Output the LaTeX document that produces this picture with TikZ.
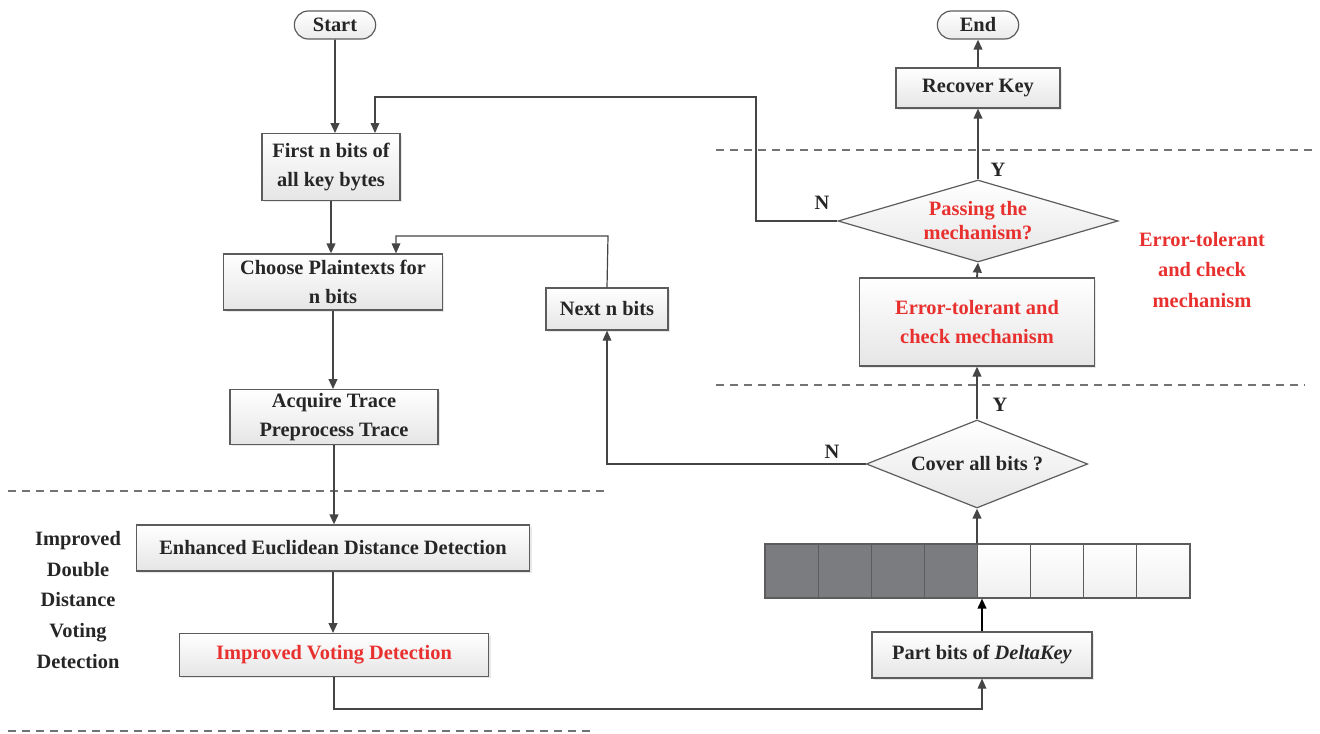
\documentclass[tikz,border=0pt]{standalone}
\usepackage{fontspec}
\setmainfont{Liberation Serif}
\usetikzlibrary{
  arrows.meta,
  shapes.misc,
  shapes.geometric,
  shadows,
  positioning
}
\definecolor{linegray}{HTML}{454545}
\definecolor{boxgray}{HTML}{5C5C5C}
\definecolor{textdark}{HTML}{262626}
\definecolor{alertred}{HTML}{E8312F}
\definecolor{cellgray}{HTML}{7B7C7F}

\begin{document}
\begin{tikzpicture}[x=0.75pt,y=-0.75pt,
      process/.style={
         rectangle,
         inner sep=0pt,
         line width=0.9pt,
         draw=boxgray,
         top color=white,
         bottom color=black!10,
         drop shadow={opacity=0.18,shadow xshift=1.5pt,shadow yshift=-1.5pt},
         font=\bfseries\fontsize{15.3}{21.75}\selectfont,
         text=textdark,
         align=center
      },
      terminal/.style={
         rounded rectangle,
         inner sep=0pt,
         line width=0.9pt,
         draw=boxgray,
         top color=white,bottom color=black!8,
         font=\bfseries\fontsize{15.3}{18}\selectfont,
         text=textdark,
         minimum width=61pt,minimum height=21pt
      },
      decision/.style={
         diamond,
         inner sep=0pt,
         line width=0.9pt,
         draw=boxgray,
         top color=white,bottom color=black!10,
         font=\bfseries\fontsize{15.3}{18}\selectfont,
         text=textdark,
         align=center
      },
      cell/.style={
         rectangle,
         line width=0.8pt,
         draw=boxgray,
         minimum width=39.84pt,
         minimum height=40.5pt
      },
      label/.style={font=\bfseries\fontsize{15.3}{22.9}\selectfont,text=textdark,align=center},
      yn/.style={font=\bfseries\fontsize{15.3}{18}\selectfont,text=textdark},
      tip/.style={->,line width=1.4pt,draw=linegray},
      loop/.style={->,line width=0.9pt,draw=linegray},
      sepline/.style={dashed,dash pattern=on 6pt off 4.5pt,line width=0.8pt,draw=black!55},
      >={Triangle[length=7.5pt,width=6.5pt]}
    ]
  \useasboundingbox (0,0) rectangle (1320,734);

  % separators
  \draw[sepline] (716,150) -- (1312,150);
  \draw[sepline] (716,385) -- (1305,385);
  \draw[sepline] (8,491) -- (604,491);
  \draw[sepline] (8,731) -- (596,731);

  % left column
  \node (start) [terminal] at (335,25) {Start};
  \node (first) [process,minimum width=103.5pt,minimum height=50pt] at (331,167) {First n bits of\\all key bytes};
  \node (choose) [process,minimum width=164pt,minimum height=42pt] at (333,282) {Choose Plaintexts for\\n bits};
  \node (acquire) [process,minimum width=156pt,minimum height=41pt] at (334,417) {Acquire Trace\\Preprocess Trace};
  \node (euclid) [process,minimum width=295pt,minimum height=34.5pt] at (333,548) {Enhanced Euclidean Distance Detection};
  \node (vote) [process,minimum width=232pt,minimum height=32pt,text=alertred] at (334,655) {Improved Voting Detection};
  \node (next) [process,minimum width=91.5pt,minimum height=31.5pt] at (607,309) {Next n bits};

  % right column
  \node (end) [terminal] at (978,25) {End};
  \node (recover) [process,minimum width=123pt,minimum height=30pt] at (978,88) {Recover Key};
  \node (pass) [decision,aspect=3.41,minimum width=210pt,minimum height=61.5pt,text=alertred] at (978,221) {Passing the\\mechanism?};
  \node (check) [process,minimum width=176pt,minimum height=66pt,text=alertred] at (977,322) {Error-tolerant and\\check mechanism};
  \node (cover) [decision,aspect=2.51,minimum width=166pt,minimum height=66pt] at (977,464) {Cover all bits ?};
  \node (part) [process,minimum width=165pt,minimum height=34.5pt] at (982,655) {Part bits of \textit{DeltaKey}};

  % key bits
  \foreach \i in {1,...,4}
    \node (cell\i) [cell,fill=cellgray] at (765+53.125*\i-26.56,571) {};
  \foreach \i in {5,...,8}
    \node (cell\i) [cell,top color=white,bottom color=black!6] at (765+53.125*\i-26.56,571) {};

  % side notes
  \node (ddv) [label] at (78,600) {Improved\\Double\\Distance\\Voting\\Detection};
  \node (etc) [label,text=alertred] at (1202,270) {Error-tolerant\\and check\\mechanism};

  % corners
  \coordinate (loopA) at (756,97);
  \coordinate (loopB) at (608,236);
  \coordinate (loopC) at (334,709);

  % main flow
  \draw[tip] (start) -- (start |- first.north);
  \draw[tip] (first) -- (first |- choose.north);
  \draw[tip] (choose) -- (choose |- acquire.north);
  \draw[tip] (acquire) -- (acquire |- euclid.north);
  \draw[tip] (euclid) -- (euclid |- vote.north);
  \draw[loop] (vote.south) -- (loopC) -| (part.south);
  \draw[tip,draw=black] (part.north) -- (part.north |- cell5.south);
  \draw[tip] (cell5.north west) -- (cover.south);
  \draw[tip] (cover.north) -- (check.south);
  \draw[tip] (check.north) -- (pass.south);
  \draw[tip] (pass.north) -- (recover.south);
  \draw[tip] (recover.north) -- (end.south);

  % back loops
  \draw[loop] (cover.west) -| (next.south);
  \draw[loop] (next.north) -- (loopB) -| ([xshift=47.25pt]choose.north);
  \draw[loop] (pass.west) -| (loopA) -| ([xshift=33pt]first.north);

  % branch labels
  \node (yA) [yn] at (998,170) {Y};
  \node (nA) [yn] at (822,203) {N};
  \node (yB) [yn] at (1000,405) {Y};
  \node (nB) [yn] at (832,452) {N};
\end{tikzpicture}
\end{document}
